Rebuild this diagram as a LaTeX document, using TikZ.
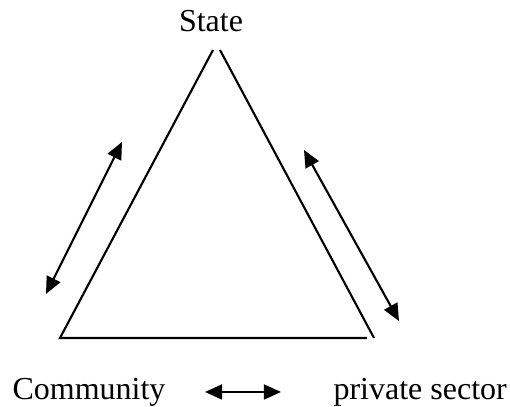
\documentclass[tikz,border=0pt]{standalone}
\usepackage{fontspec}
\setmainfont{Liberation Serif}
\usetikzlibrary{arrows.meta}

\tikzset{
    twoway/.style={thick,{Triangle[length=6.4pt,width=5.6pt]}-{Triangle[length=6.4pt,width=5.6pt]}},
    lbl/.style={inner sep=0pt,font=\fontsize{12}{14}\selectfont}
}

\begin{document}
\begin{tikzpicture}[x=0.375pt,y=-0.375pt]
    \useasboundingbox (0,0) rectangle (510,407);

    % labels
    \node[lbl,anchor=base] (state) at (211,32) {State};
    \node[lbl,anchor=base west] (comm) at (12,400) {Community};
    \node[lbl,anchor=base west] (priv) at (333,400) {private sector};

    % triangle
    \coordinate (topl) at (213,50);
    \coordinate (topr) at (220,50);
    \coordinate (botl) at (60,338);
    \coordinate (botm) at (367,338);
    \coordinate (botr) at (374,338);
    \draw[thick] (topl) -- (botl) -- (botm);
    \draw[thick] (topr) -- (botr);

    % arrows
    \coordinate (la) at (46,294);
    \coordinate (lb) at (122,142);
    \coordinate (ra) at (304,150);
    \coordinate (rb) at (399,321);
    \coordinate (ba) at (205,392);
    \coordinate (bb) at (281,392);
    \draw[twoway] (la) -- (lb);
    \draw[twoway] (ra) -- (rb);
    \draw[twoway] (ba) -- (bb);
\end{tikzpicture}
\end{document}
